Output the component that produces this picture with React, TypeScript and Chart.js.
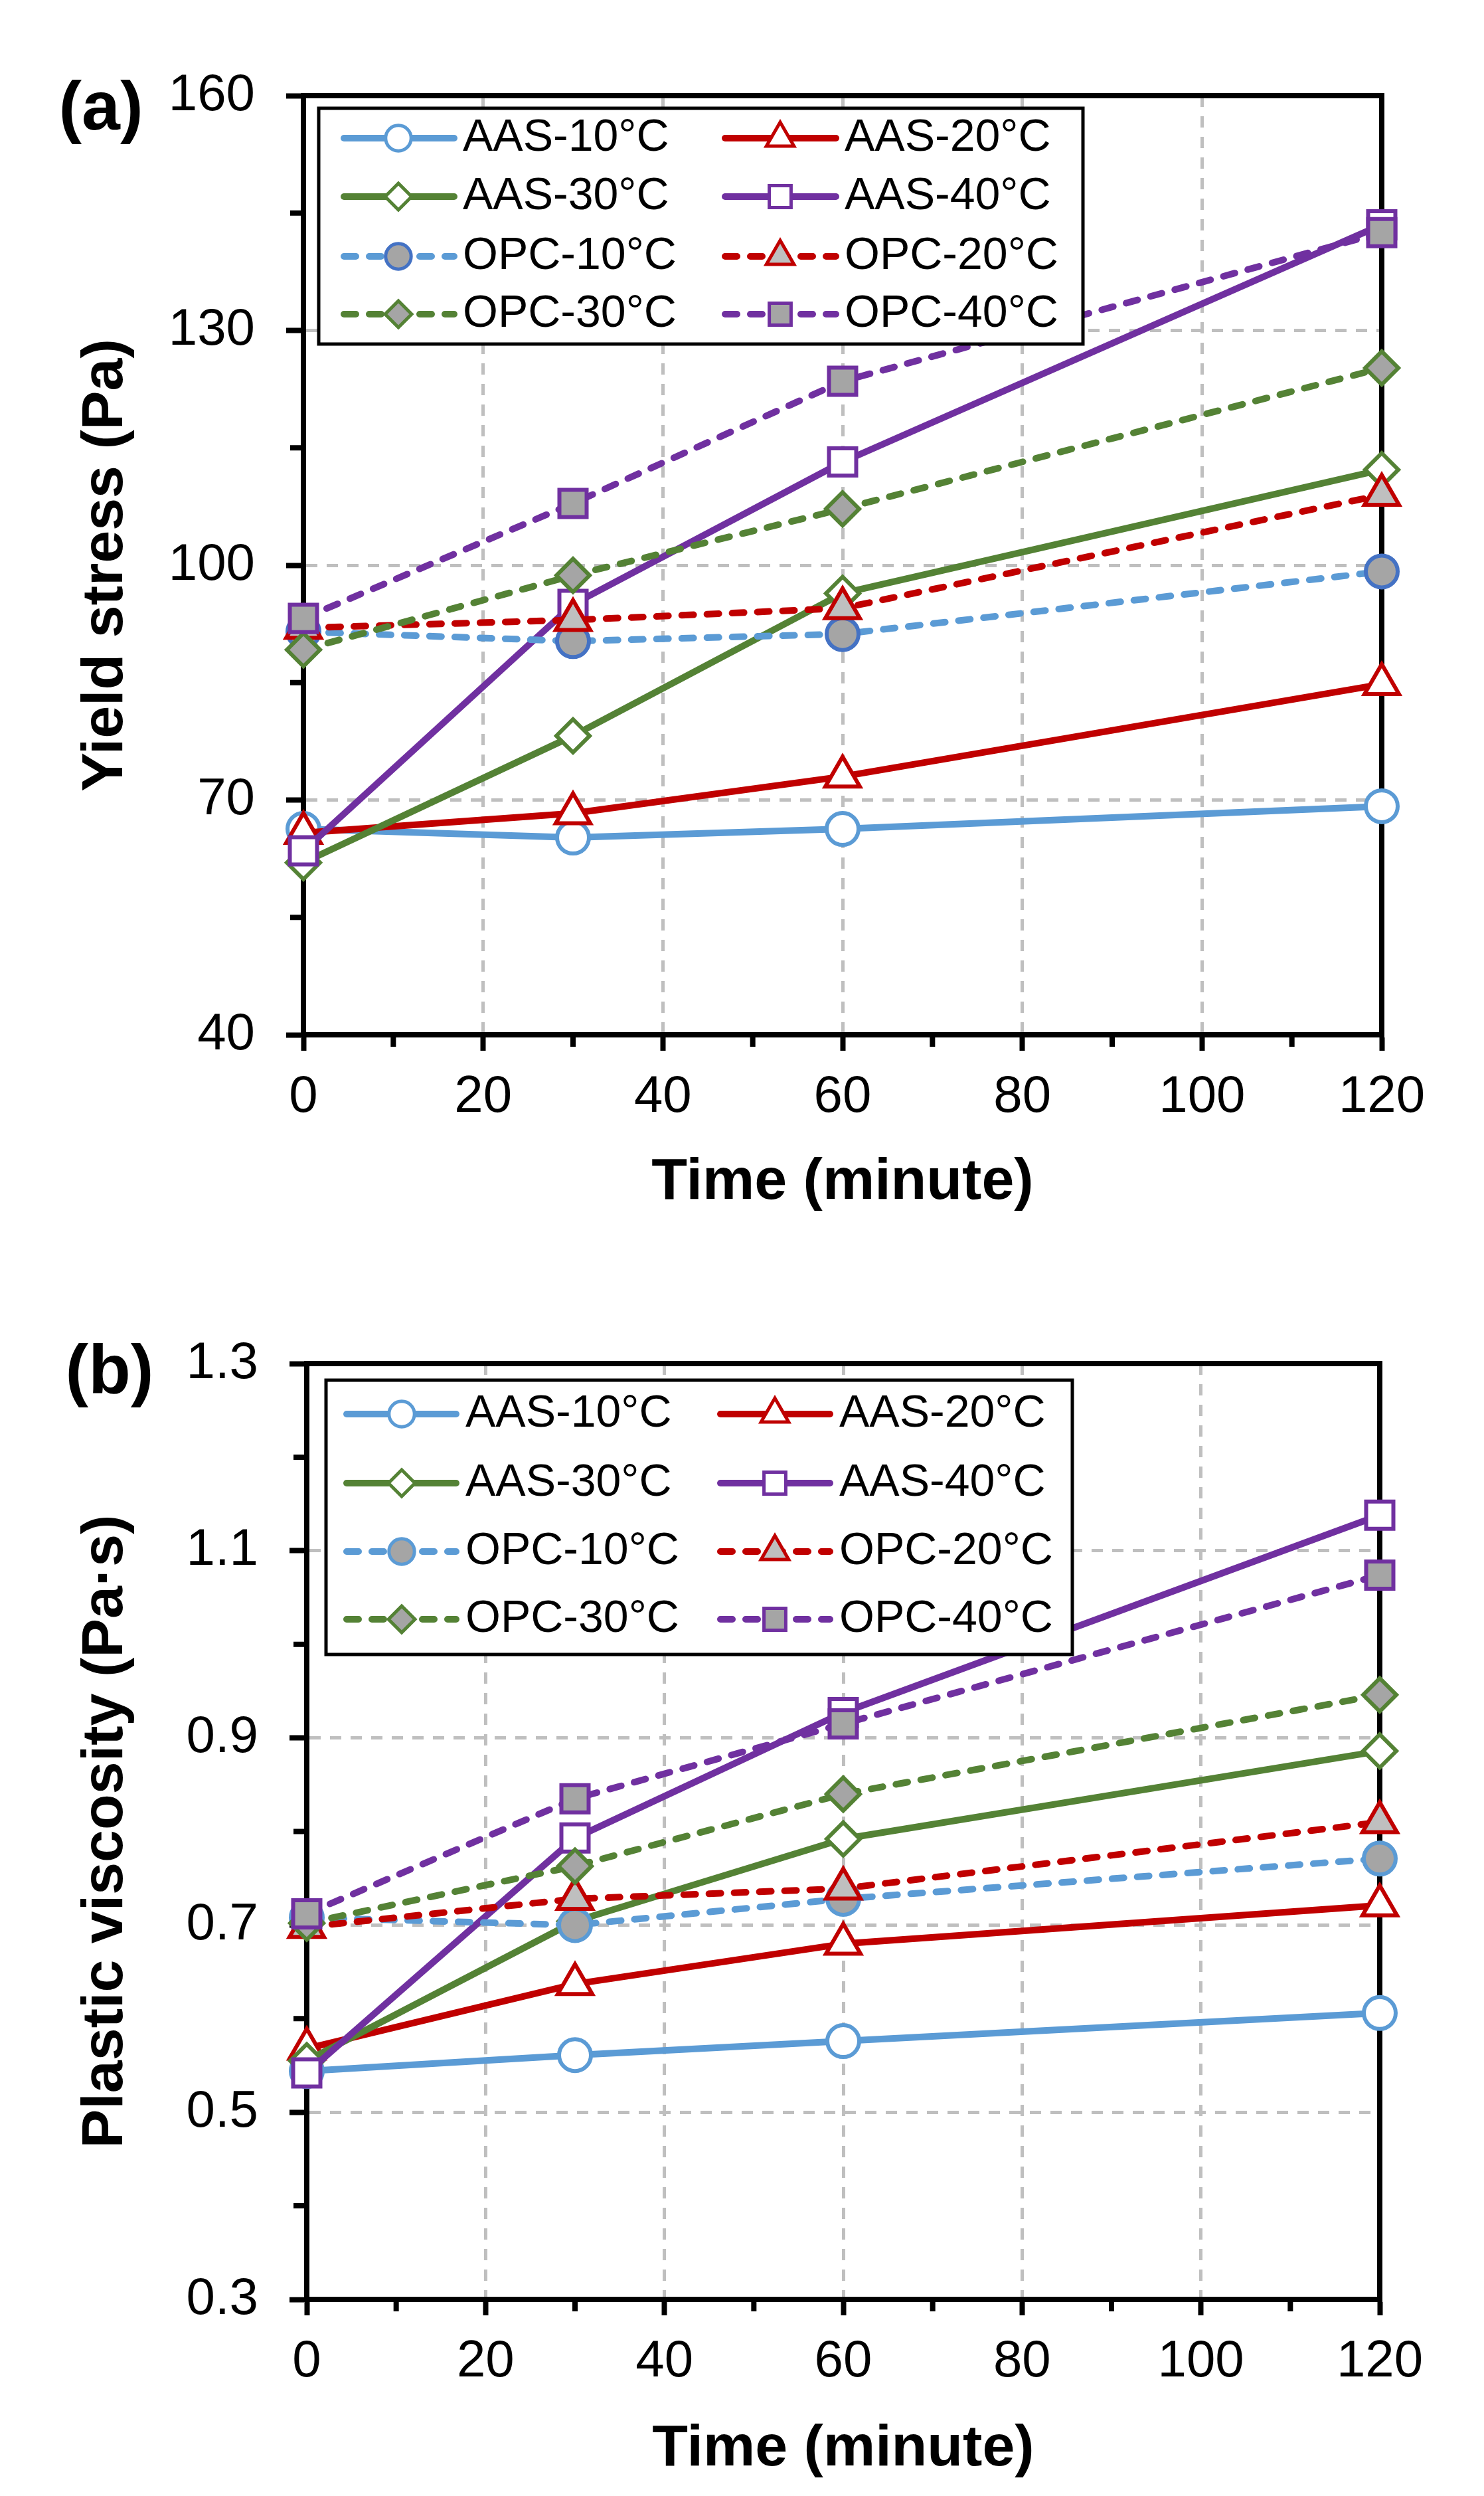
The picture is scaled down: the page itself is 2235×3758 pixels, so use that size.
import { useEffect, useRef } from "react"
import { Chart, registerables } from "chart.js"
import type { Plugin, Scale } from "chart.js"
import { drawPoint } from "chart.js/helpers"

Chart.register(...registerables)
Chart.defaults.font.family = "'Liberation Sans', Arial, sans-serif"
Chart.defaults.color = "#000"

document.body.style.margin = "0"

const PAGE_WIDTH = 2235

// sampling times, minutes
const times = [0, 30, 60, 120]
const timeTicks = [0, 20, 40, 60, 80, 100, 120]

const seriesNames = [
  "AAS-10°C",
  "AAS-20°C",
  "AAS-30°C",
  "AAS-40°C",
  "OPC-10°C",
  "OPC-20°C",
  "OPC-30°C",
  "OPC-40°C",
]

// (a) yield stress, Pa
const aas10Yield = [66.3, 65.2, 66.3, 69.2]
const aas20Yield = [65.8, 68.3, 73.0, 84.8]
const aas30Yield = [62.0, 78.2, 96.4, 112.2]
const aas40Yield = [63.5, 95.0, 113.2, 143.5]
const opc10Yield = [91.5, 90.3, 91.2, 99.2]
const opc20Yield = [92.0, 93.0, 94.5, 109.0]
const opc30Yield = [89.2, 98.7, 107.2, 125.2]
const opc40Yield = [93.2, 107.9, 123.5, 142.5]
const yieldTicks = [40, 70, 100, 130, 160]

// (b) plastic viscosity, Pa·s
const aas10Visc = [0.544, 0.561, 0.576, 0.606]
const aas20Visc = [0.568, 0.637, 0.68, 0.721]
const aas30Visc = [0.555, 0.704, 0.792, 0.886]
const aas40Visc = [0.542, 0.793, 0.927, 1.138]
const opc10Visc = [0.708, 0.7, 0.728, 0.771]
const opc20Visc = [0.698, 0.728, 0.739, 0.81]
const opc30Visc = [0.702, 0.763, 0.84, 0.946]
const opc40Visc = [0.712, 0.835, 0.915, 1.074]
const viscosityTicks = [0.3, 0.5, 0.7, 0.9, 1.1, 1.3]

const BLUE = "#5B9BD5"
const RED = "#C00000"
const GREEN = "#548235"
const PURPLE = "#7030A0"
const MARKER_GREY = "#A5A5A5"
const GRID_GREY = "#BFBFBF"

const TICK_FONT = 78
const TITLE_FONT = 88
const TITLE_HALF = (TITLE_FONT * 1.2) / 2
const LINE_WIDTH = 10

const isMajor = (v: number, majors: number[]) => majors.some((t) => Math.abs(t - v) < 1e-6)

function styleFor(i: number, opc10Edge: string) {
  const colors = [BLUE, RED, GREEN, PURPLE]
  const shapes = ["circle", "triangle", "rectRot", "rect"]
  const radii = [24, 30, 25, 29]
  const k = i % 4
  const opc = i >= 4
  return {
    color: colors[k],
    shape: shapes[k],
    radius: radii[k],
    dashed: opc,
    fill: opc ? (k === 1 ? "#BFBFBF" : MARKER_GREY) : "#FFFFFF",
    edge: opc && k === 0 ? opc10Edge : colors[k],
  }
}

interface LegendLayout {
  box: [number, number, number, number]
  rows: number[]
  cols: { lineStart: number; lineEnd: number; marker: number; text: number }[]
}

interface PanelConfig {
  height: number
  plot: { left: number; top: number; right: number; bottom: number }
  xTitleY: number
  yTitleX: number
  values: number[][]
  yMin: number
  yMax: number
  yStep: number
  yMajor: number[]
  decimals: number
  yTitle: string
  tag: { text: string; x: number; y: number }
  legend: LegendLayout
  opc10Edge: string
}

const panelA: PanelConfig = {
  height: 1880,
  plot: { left: 457, top: 144, right: 2081, bottom: 1558 },
  xTitleY: 1781,
  yTitleX: 160,
  values: [aas10Yield, aas20Yield, aas30Yield, aas40Yield, opc10Yield, opc20Yield, opc30Yield, opc40Yield],
  yMin: 40,
  yMax: 160,
  yStep: 15,
  yMajor: yieldTicks,
  decimals: 0,
  yTitle: "Yield stress (Pa)",
  tag: { text: "(a)", x: 152, y: 166 },
  legend: {
    box: [480, 163, 1631, 518],
    rows: [208, 296, 386, 473],
    cols: [
      { lineStart: 518, lineEnd: 684, marker: 600, text: 697 },
      { lineStart: 1092, lineEnd: 1259, marker: 1175, text: 1272 },
    ],
  },
  opc10Edge: "#4472C4",
}

const panelB: PanelConfig = {
  height: 1878,
  plot: { left: 462, top: 173, right: 2078, bottom: 1582 },
  xTitleY: 1808,
  yTitleX: 160,
  values: [aas10Visc, aas20Visc, aas30Visc, aas40Visc, opc10Visc, opc20Visc, opc30Visc, opc40Visc],
  yMin: 0.3,
  yMax: 1.3,
  yStep: 0.1,
  yMajor: viscosityTicks,
  decimals: 1,
  yTitle: "Plastic viscosity (Pa·s)",
  tag: { text: "(b)", x: 165, y: 188 },
  legend: {
    box: [491, 198, 1615, 611],
    rows: [249, 353, 456, 558],
    cols: [
      { lineStart: 522, lineEnd: 687, marker: 605, text: 701 },
      { lineStart: 1085, lineEnd: 1250, marker: 1167, text: 1264 },
    ],
  },
  opc10Edge: BLUE,
}

function buildDatasets(cfg: PanelConfig) {
  return cfg.values.map((ys, i) => {
    const s = styleFor(i, cfg.opc10Edge)
    return {
      label: seriesNames[i],
      data: times.map((t, k) => ({ x: t, y: ys[k] })),
      borderColor: s.color,
      borderWidth: LINE_WIDTH,
      borderDash: s.dashed ? [18, 20] : [],
      borderCapStyle: s.dashed ? "round" : "butt",
      borderJoinStyle: "round",
      tension: 0,
      pointStyle: s.shape,
      pointRadius: s.radius,
      pointHoverRadius: s.radius,
      pointBorderWidth: 6,
      pointBorderColor: s.edge,
      pointBackgroundColor: s.fill,
      clip: false,
      // later series sit on top, as in the source figure
      order: cfg.values.length - i,
    }
  })
}

// frame on all four sides plus the short unlabeled minor ticks
function framePlugin(cfg: PanelConfig): Plugin<"line"> {
  return {
    id: "frame",
    beforeDatasetsDraw(chart) {
      const { ctx, chartArea: a } = chart
      const xs = chart.scales.x
      const ys = chart.scales.y
      ctx.save()
      ctx.setLineDash([])
      ctx.strokeStyle = "#000"
      ctx.lineWidth = 8
      ctx.lineCap = "butt"
      ctx.beginPath()
      xs.ticks.forEach((t) => {
        if (isMajor(t.value, timeTicks)) return
        const px = xs.getPixelForValue(t.value)
        ctx.moveTo(px, a.bottom)
        ctx.lineTo(px, a.bottom + 18)
      })
      ys.ticks.forEach((t) => {
        if (isMajor(t.value, cfg.yMajor)) return
        const py = ys.getPixelForValue(t.value)
        ctx.moveTo(a.left, py)
        ctx.lineTo(a.left - 20, py)
      })
      ctx.stroke()
      ctx.strokeRect(a.left, a.top, a.right - a.left, a.bottom - a.top)
      ctx.restore()
    },
  }
}

function legendPlugin(cfg: PanelConfig): Plugin<"line"> {
  return {
    id: "boxLegend",
    afterDatasetsDraw(chart) {
      const { ctx } = chart
      const [x1, y1, x2, y2] = cfg.legend.box
      ctx.save()
      ctx.setLineDash([])
      ctx.fillStyle = "#FFFFFF"
      ctx.fillRect(x1, y1, x2 - x1, y2 - y1)
      ctx.strokeStyle = "#000"
      ctx.lineWidth = 5
      ctx.strokeRect(x1, y1, x2 - x1, y2 - y1)

      chart.data.datasets.forEach((d, i) => {
        const ds = d as any
        const row = cfg.legend.rows[Math.floor(i / 2)]
        const col = cfg.legend.cols[i % 2]
        const dashed = ds.borderDash.length > 0

        ctx.strokeStyle = ds.borderColor
        ctx.lineWidth = 10
        ctx.lineCap = "round"
        ctx.setLineDash(dashed ? [18, 20] : [])
        ctx.beginPath()
        ctx.moveTo(col.lineStart, row)
        ctx.lineTo(col.lineEnd, row)
        ctx.stroke()

        ctx.setLineDash([])
        ctx.lineCap = "butt"
        ctx.lineWidth = 5
        ctx.fillStyle = ds.pointBackgroundColor
        ctx.strokeStyle = ds.pointBorderColor
        drawPoint(
          ctx,
          { pointStyle: ds.pointStyle, radius: ds.pointRadius * 0.8, borderWidth: 5, rotation: 0 },
          col.marker,
          row
        )

        ctx.fillStyle = "#000"
        ctx.font = "68px 'Liberation Sans', Arial, sans-serif"
        ctx.textAlign = "left"
        ctx.textBaseline = "middle"
        ctx.fillText(ds.label, col.text, row)
      })
      ctx.restore()
    },
    afterDraw(chart) {
      const { ctx } = chart
      ctx.save()
      ctx.fillStyle = "#000"
      ctx.font = "bold 104px 'Liberation Sans', Arial, sans-serif"
      ctx.textAlign = "center"
      ctx.textBaseline = "middle"
      ctx.fillText(cfg.tag.text, cfg.tag.x, cfg.tag.y)
      ctx.restore()
    },
  }
}

function Panel({ cfg }: { cfg: PanelConfig }) {
  const canvasRef = useRef<HTMLCanvasElement>(null)

  useEffect(() => {
    if (!canvasRef.current) return

    const xAxisBottom = cfg.xTitleY + TITLE_HALF
    const xAxisHeight = xAxisBottom - cfg.plot.bottom
    const gridColor = (majors: number[], min: number, max: number) => (c: any) => {
      const v = c.tick?.value
      if (v === undefined) return "transparent"
      return isMajor(v, majors) && v > min + 1e-6 && v < max - 1e-6 ? GRID_GREY : "transparent"
    }
    const tickColor = (majors: number[]) => (c: any) =>
      c.tick && isMajor(c.tick.value, majors) ? "#000" : "transparent"

    const chart = new Chart(canvasRef.current, {
      type: "line",
      data: { datasets: buildDatasets(cfg) as any },
      plugins: [framePlugin(cfg), legendPlugin(cfg)],
      options: {
        animation: false,
        responsive: true,
        maintainAspectRatio: false,
        devicePixelRatio: 1,
        events: [],
        layout: {
          padding: {
            left: 0,
            top: cfg.plot.top,
            right: PAGE_WIDTH - cfg.plot.right,
            bottom: cfg.height - xAxisBottom,
          },
        },
        plugins: {
          legend: { display: false },
          tooltip: { enabled: false },
        },
        scales: {
          x: {
            type: "linear",
            min: 0,
            max: 120,
            ticks: {
              stepSize: 10,
              autoSkip: false,
              maxRotation: 0,
              padding: 24,
              font: { size: TICK_FONT },
              callback: (v) => (isMajor(Number(v), timeTicks) ? String(v) : ""),
            },
            grid: {
              color: gridColor(timeTicks, 0, 120),
              lineWidth: 5,
              tickLength: 24,
              tickWidth: 8,
              tickColor: tickColor(timeTicks),
              tickBorderDash: [],
            },
            border: { display: true, color: "#000", width: 8, dash: [17, 14] },
            title: {
              display: true,
              text: "Time (minute)",
              font: { size: TITLE_FONT, weight: "bold", lineHeight: 1.2 },
              padding: 0,
            },
            afterFit: (scale: Scale) => {
              scale.height = xAxisHeight
            },
          },
          y: {
            type: "linear",
            min: cfg.yMin,
            max: cfg.yMax,
            ticks: {
              stepSize: cfg.yStep,
              autoSkip: false,
              padding: 47,
              font: { size: TICK_FONT },
              callback: (v) =>
                isMajor(Number(v), cfg.yMajor) ? Number(v).toFixed(cfg.decimals) : "",
            },
            grid: {
              color: gridColor(cfg.yMajor, cfg.yMin, cfg.yMax),
              lineWidth: 5,
              tickLength: 26,
              tickWidth: 8,
              tickColor: tickColor(cfg.yMajor),
              tickBorderDash: [],
            },
            border: { display: true, color: "#000", width: 8, dash: [17, 14] },
            title: {
              display: true,
              text: cfg.yTitle,
              font: { size: TITLE_FONT, weight: "bold", lineHeight: 1.2 },
              padding: { top: cfg.yTitleX - TITLE_HALF, bottom: 0 },
            },
            afterFit: (scale: Scale) => {
              scale.width = cfg.plot.left
            },
          },
        },
      } as any,
    })

    return () => {
      chart.destroy()
    }
  }, [cfg])

  return (
    <div style={{ position: "relative", width: PAGE_WIDTH, height: cfg.height }}>
      <canvas ref={canvasRef} />
    </div>
  )
}

export default function App() {
  return (
    <div style={{ width: PAGE_WIDTH, background: "#fff" }}>
      <Panel cfg={panelA} />
      <Panel cfg={panelB} />
    </div>
  )
}
